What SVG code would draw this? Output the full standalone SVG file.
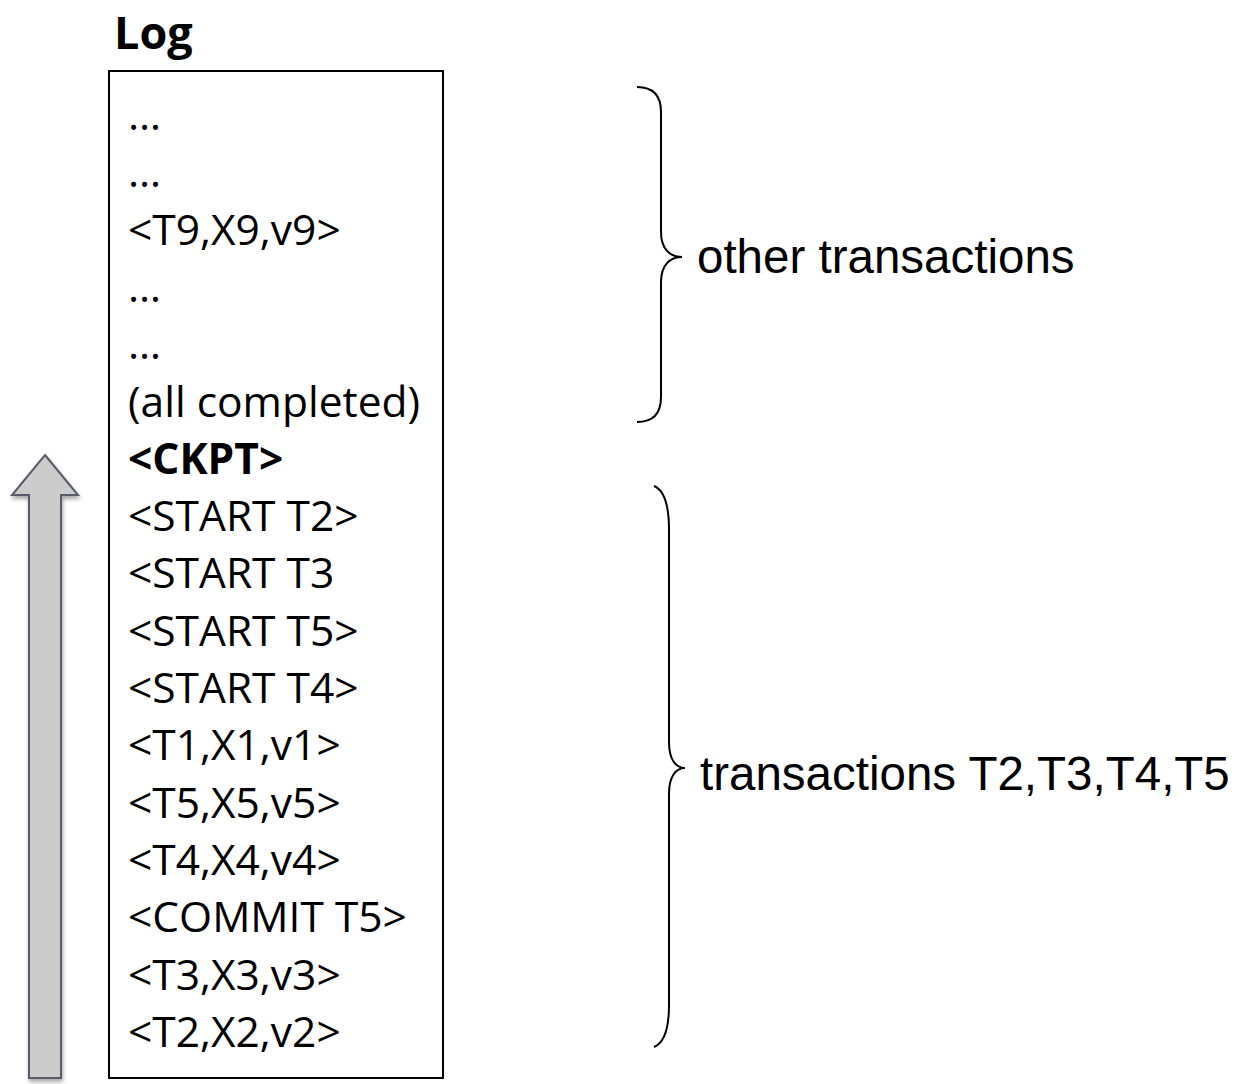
<svg xmlns="http://www.w3.org/2000/svg" width="1253" height="1084" viewBox="0 0 1253 1084">
  <style>
    .log { font-family: "Open Sans", "Liberation Sans", sans-serif; font-size: 42.5px; fill: #000; }
    .bold { font-weight: bold; }
    .lbl { font-family: "Liberation Sans", Arial, sans-serif; font-size: 47.5px; fill: #000; }
    .brace { fill: none; stroke: #000; stroke-width: 2; }
  </style>
  <defs>
    <filter id="shadow" x="-20%" y="-5%" width="140%" height="110%">
      <feDropShadow dx="1" dy="3" stdDeviation="2" flood-color="#000" flood-opacity="0.35"/>
    </filter>
  </defs>
  <rect width="1253" height="1084" fill="#fff"/>

  <g id="title">
    <text x="114" y="49" class="log bold" style="font-size:45px">Log</text>
  </g>

  <g id="arrow">
    <polygon points="45,455 78,495 61,495 61,1078 29,1078 29,495 12,495" fill="#cccccc" stroke="#5a5a6a" stroke-width="2" stroke-linejoin="miter" filter="url(#shadow)"/>
  </g>

  <g id="log-box">
    <rect x="109" y="71" width="334" height="1007" fill="#fff" stroke="#000" stroke-width="2"/>
    <text class="log" x="128" y="130">…</text>
    <text class="log" x="128" y="187.3">…</text>
    <text class="log" x="128" y="244.6">&lt;T9,X9,v9&gt;</text>
    <text class="log" x="128" y="301.9">…</text>
    <text class="log" x="128" y="359.2">…</text>
    <text class="log" x="128" y="416.5">(all completed)</text>
    <text class="log bold" x="128" y="473.8">&lt;CKPT&gt;</text>
    <text class="log" x="128" y="531.1">&lt;START T2&gt;</text>
    <text class="log" x="128" y="588.4">&lt;START T3</text>
    <text class="log" x="128" y="645.7">&lt;START T5&gt;</text>
    <text class="log" x="128" y="703">&lt;START T4&gt;</text>
    <text class="log" x="128" y="760.3">&lt;T1,X1,v1&gt;</text>
    <text class="log" x="128" y="817.6">&lt;T5,X5,v5&gt;</text>
    <text class="log" x="128" y="874.9">&lt;T4,X4,v4&gt;</text>
    <text class="log" x="128" y="932.2">&lt;COMMIT T5&gt;</text>
    <text class="log" x="128" y="989.5">&lt;T3,X3,v3&gt;</text>
    <text class="log" x="128" y="1046.8">&lt;T2,X2,v2&gt;</text>
  </g>

  <g id="connectors">
    <path class="brace" d="M637,87 C652,87 661,95 661,112 L661,232 C661,249 670,257 682,257 C670,257 661,265 661,282 L661,397 C661,414 652,422 637,422"/>
    <path class="brace" d="M654,486 C664,490 669,505 669,530 L669,742 C669,760 676,768 685,768 C676,768 669,776 669,794 L669,1005 C669,1030 664,1043 654,1047"/>
  </g>

  <g id="label-other">
    <text class="lbl" x="697" y="273">other transactions</text>
  </g>
  <g id="label-t2345">
    <text class="lbl" x="700" y="790">transactions T2,T3,T4,T5</text>
  </g>
</svg>
